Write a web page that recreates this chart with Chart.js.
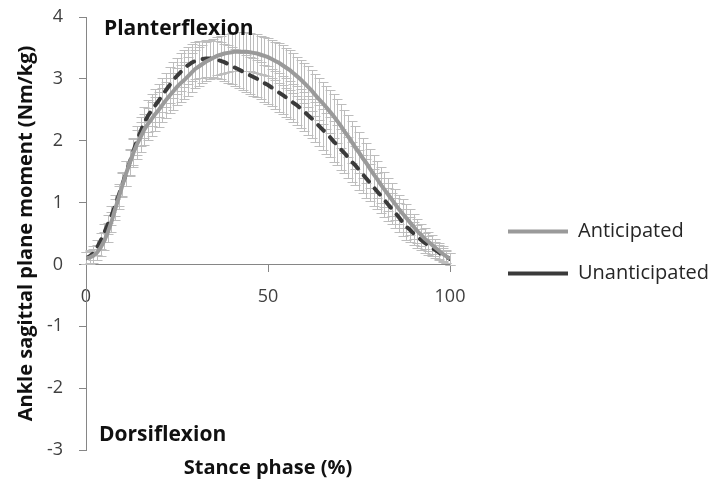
<!DOCTYPE html>
<html>
<head>
<meta charset="utf-8">
<script src="https://cdn.jsdelivr.net/npm/chart.js@4/dist/chart.umd.min.js"></script>
<style>
  html, body { margin: 0; padding: 0; background: #fff; }
  #wrap { width: 717px; height: 488px; }
</style>
</head>
<body>
<div id="wrap"><canvas id="c" width="717" height="488"></canvas></div>
<script>
// Stance phase (%), 0..100 in 1% steps
const stance = Array.from({length: 101}, (_, i) => i);

// Anticipated mean (Nm/kg)
const anticipated = [
  0.10,0.11,0.14,0.19,0.27,0.38,0.52,0.69,0.89,1.08,
  1.28,1.47,1.64,1.80,1.94,2.06,2.18,2.27,2.35,2.43,
  2.50,2.58,2.66,2.73,2.80,2.87,2.93,2.98,3.04,3.10,
  3.16,3.20,3.24,3.28,3.31,3.34,3.37,3.39,3.41,3.42,
  3.43,3.44,3.44,3.44,3.44,3.43,3.42,3.41,3.39,3.37,
  3.35,3.32,3.29,3.26,3.22,3.18,3.14,3.09,3.04,2.99,
  2.93,2.87,2.81,2.74,2.67,2.61,2.54,2.47,2.40,2.32,
  2.24,2.15,2.07,1.98,1.89,1.81,1.72,1.64,1.55,1.46,
  1.38,1.29,1.21,1.13,1.05,0.97,0.89,0.82,0.75,0.68,
  0.61,0.54,0.48,0.42,0.37,0.32,0.27,0.22,0.17,0.13,
  0.09
];

// Unanticipated mean (Nm/kg)
const unanticipated = [
  0.10,0.13,0.18,0.27,0.38,0.51,0.65,0.79,0.95,1.12,
  1.30,1.47,1.65,1.83,2.00,2.15,2.29,2.40,2.49,2.57,
  2.65,2.74,2.82,2.90,2.98,3.05,3.11,3.17,3.22,3.26,
  3.29,3.31,3.32,3.33,3.33,3.32,3.31,3.29,3.27,3.24,
  3.21,3.18,3.15,3.12,3.09,3.06,3.03,3.00,2.97,2.93,
  2.90,2.86,2.82,2.78,2.74,2.70,2.66,2.61,2.57,2.52,
  2.47,2.41,2.36,2.30,2.24,2.18,2.12,2.06,1.99,1.93,
  1.86,1.80,1.73,1.66,1.60,1.53,1.46,1.39,1.32,1.25,
  1.18,1.11,1.04,0.97,0.90,0.83,0.76,0.68,0.61,0.56,
  0.50,0.45,0.40,0.35,0.31,0.27,0.23,0.19,0.15,0.12,
  0.09
];

// Standard deviations (error bars)
const sdAnticipated = [
  0.10,0.10,0.11,0.12,0.13,0.14,0.15,0.16,0.17,0.18,
  0.19,0.20,0.21,0.22,0.23,0.24,0.25,0.26,0.27,0.27,
  0.28,0.28,0.29,0.29,0.30,0.30,0.30,0.30,0.31,0.31,
  0.31,0.31,0.31,0.31,0.31,0.31,0.31,0.31,0.31,0.31,
  0.31,0.31,0.31,0.31,0.31,0.31,0.31,0.31,0.31,0.31,
  0.31,0.31,0.31,0.32,0.32,0.32,0.32,0.32,0.32,0.32,
  0.32,0.33,0.33,0.34,0.34,0.34,0.35,0.35,0.35,0.35,
  0.35,0.35,0.34,0.34,0.34,0.33,0.33,0.32,0.32,0.31,
  0.30,0.29,0.28,0.27,0.26,0.25,0.24,0.23,0.22,0.21,
  0.20,0.19,0.18,0.17,0.16,0.15,0.14,0.13,0.12,0.11,
  0.10
];
const sdUnanticipated = [
  0.10,0.10,0.11,0.12,0.13,0.14,0.15,0.16,0.17,0.18,
  0.19,0.20,0.21,0.22,0.23,0.24,0.25,0.26,0.26,0.27,
  0.27,0.28,0.28,0.29,0.29,0.29,0.30,0.30,0.30,0.30,
  0.30,0.30,0.30,0.30,0.30,0.30,0.30,0.30,0.30,0.30,
  0.30,0.30,0.30,0.30,0.30,0.30,0.30,0.30,0.30,0.30,
  0.30,0.30,0.30,0.31,0.31,0.31,0.31,0.31,0.31,0.31,
  0.31,0.32,0.32,0.32,0.33,0.33,0.33,0.33,0.33,0.33,
  0.33,0.33,0.33,0.32,0.32,0.32,0.31,0.31,0.30,0.30,
  0.29,0.28,0.27,0.26,0.25,0.24,0.23,0.22,0.21,0.20,
  0.19,0.18,0.17,0.16,0.15,0.14,0.13,0.12,0.11,0.10,
  0.10
];

const seriesNames = ['Anticipated', 'Unanticipated'];
const xTicks = [0, 50, 100];
const yTicks = [-3, -2, -1, 0, 1, 2, 3, 4];

const FONT = '"Open Sans", "Noto Sans", sans-serif';
const sdSets = [sdAnticipated, sdUnanticipated];

const errorBars = {
  id: 'errorBars',
  beforeDatasetsDraw(chart) {
    const {ctx, scales: {x, y}} = chart;
    ctx.save();
    ctx.strokeStyle = '#bdbdbd';
    ctx.lineWidth = 1;
    chart.data.datasets.forEach((ds, i) => {
      const sd = sdSets[i];
      ds.data.forEach((pt, j) => {
        const px = Math.round(x.getPixelForValue(pt.x)) + 0.5;
        const yt = Math.round(y.getPixelForValue(pt.y + sd[j])) + 0.5;
        const yb = Math.round(y.getPixelForValue(pt.y - sd[j])) + 0.5;
        ctx.beginPath();
        ctx.moveTo(px, yt); ctx.lineTo(px, yb);
        ctx.moveTo(px - 5, yt); ctx.lineTo(px + 5, yt);
        ctx.moveTo(px - 5, yb); ctx.lineTo(px + 5, yb);
        ctx.stroke();
      });
    });
    ctx.restore();
  }
};

// Keep the legend column a fixed width beside the plot, then place its items.
const legendPlacement = {
  id: 'legendPlacement',
  beforeLayout(chart) {
    const lg = chart.legend;
    if (lg && !lg._fixedFit) {
      const orig = lg.fit;
      lg.fit = function () { orig.call(this); this.width = 267; };
      lg._fixedFit = true;
    }
  },
  afterLayout(chart) {
    const lg = chart.legend;
    if (!lg) return;
    const pad = lg.options.labels.padding;
    const dx = 508 - (lg.left + pad);
    lg.left += dx; lg.right += dx;
  }
};

const annotations = {
  id: 'annotations',
  afterDraw(chart) {
    const {ctx} = chart;
    ctx.save();
    ctx.fillStyle = '#111';
    ctx.font = 'bold 21px ' + FONT;
    ctx.textAlign = 'left';
    ctx.textBaseline = 'middle';
    ctx.fillText('Planterflexion', 104, 29);
    ctx.fillText('Dorsiflexion', 99, 435);
    ctx.restore();
  }
};

new Chart(document.getElementById('c'), {
  type: 'line',
  data: {
    datasets: [
      {
        label: seriesNames[0],
        data: anticipated.map((v, i) => ({x: stance[i], y: v})),
        borderColor: '#9a9a9a',
        backgroundColor: '#9a9a9a',
        borderWidth: 4,
        pointRadius: 0,
        tension: 0,
        fill: false
      },
      {
        label: seriesNames[1],
        data: unanticipated.map((v, i) => ({x: stance[i], y: v})),
        borderColor: '#3a3a3a',
        backgroundColor: '#3a3a3a',
        borderWidth: 4,
        borderDash: [8, 9],
        borderCapStyle: 'round',
        pointRadius: 0,
        tension: 0,
        fill: false
      }
    ]
  },
  options: {
    responsive: false,
    animation: false,
    events: [],
    layout: { padding: { top: 17, left: 0, right: 0, bottom: 0 } },
    plugins: {
      tooltip: { enabled: false },
      legend: {
        position: 'right',
        align: 'center',
        labels: {
          usePointStyle: true,
          pointStyle: 'line',
          pointStyleWidth: 60,
          boxHeight: 20,
          padding: 22,
          color: '#262626',
          font: { family: FONT, size: 20 }
        }
      }
    },
    scales: {
      x: {
        type: 'linear',
        position: { y: 0 },
        min: 0, max: 100,
        afterBuildTicks: s => { s.ticks = xTicks.map(v => ({value: v})); },
        afterFit: s => { s.paddingLeft = 0; s.paddingRight = 0; s.paddingTop = 0; s.paddingBottom = 0; },
        ticks: { color: '#404040', font: { family: FONT, size: 18 }, padding: 15, maxRotation: 0 },
        grid: { display: true, drawOnChartArea: false, drawTicks: true, tickLength: 7, color: '#868686' },
        border: { display: true, color: '#868686', width: 1 }
      },
      xTitle: {
        type: 'linear',
        position: 'bottom',
        axis: 'x',
        min: 0, max: 100,
        ticks: { display: false },
        grid: { display: false },
        border: { display: false },
        title: {
          display: true,
          text: 'Stance phase (%)',
          color: '#111',
          font: { family: FONT, size: 20, weight: 'bold', lineHeight: 1.0 },
          padding: { top: 0, bottom: 10 }
        }
      },
      y: {
        type: 'linear',
        position: 'left',
        min: -3, max: 4,
        afterBuildTicks: s => { s.ticks = yTicks.map(v => ({value: v})); },
        afterFit: s => { s.width = 86; s.paddingTop = 0; s.paddingBottom = 0; },
        ticks: { color: '#404040', font: { family: FONT, size: 18 }, padding: 16 },
        grid: { display: true, drawOnChartArea: false, drawTicks: true, tickLength: 7, color: '#868686' },
        border: { display: true, color: '#868686', width: 1 },
        title: {
          display: true,
          text: 'Ankle sagittal plane moment (Nm/kg)',
          color: '#111',
          font: { family: FONT, size: 20, weight: 'bold', lineHeight: 1.2 },
          padding: { top: 14, bottom: 0 }
        }
      }
    }
  },
  plugins: [legendPlacement, errorBars, annotations]
});
</script>
</body>
</html>
